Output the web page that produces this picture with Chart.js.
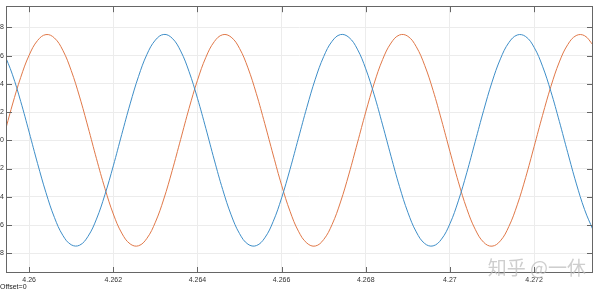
<!DOCTYPE html>
<html>
<head>
<meta charset="utf-8">
<script src="https://cdn.jsdelivr.net/npm/chart.js@4"></script>
<style>
  html, body { margin: 0; padding: 0; background: #fff; }
  #wrap { width: 600px; height: 292px; position: relative; }
</style>
</head>
<body>
<div id="wrap"><canvas id="myChart" width="600" height="292"></canvas></div>
<script>
// sample times (s)
const times = [
  4.2594, 4.2596, 4.2598, 4.2600, 4.2602, 4.2604, 4.2606, 4.2608, 4.2610, 4.2612,
  4.2614, 4.2616, 4.2618, 4.2620, 4.2622, 4.2624, 4.2626, 4.2628, 4.2630, 4.2632,
  4.2634, 4.2636, 4.2638, 4.2640, 4.2642, 4.2644, 4.2646, 4.2648, 4.2650, 4.2652,
  4.2654, 4.2656, 4.2658, 4.2660, 4.2662, 4.2664, 4.2666, 4.2668, 4.2670, 4.2672,
  4.2674, 4.2676, 4.2678, 4.2680, 4.2682, 4.2684, 4.2686, 4.2688, 4.2690, 4.2692,
  4.2694, 4.2696, 4.2698, 4.2700, 4.2702, 4.2704, 4.2706, 4.2708, 4.2710, 4.2712,
  4.2714, 4.2716, 4.2718, 4.2720, 4.2722, 4.2724, 4.2726, 4.2728, 4.2730, 4.2732,
  4.2734
];

// blue trace
const blueValues = [
  6.19, 4.68, 2.75, 0.58, -1.64, -3.71, -5.46, -6.73, -7.40, -7.43,
  -6.80, -5.58, -3.86, -1.81, 0.41, 2.58, 4.53, 6.09, 7.10, 7.50,
  7.23, 6.33, 4.87, 2.98, 0.84, -1.39, -3.49, -5.28, -6.61, -7.36,
  -7.46, -6.91, -5.75, -4.08, -2.05, 0.15, 2.34, 4.33, 5.93, 7.02,
  7.49, 7.29, 6.46, 5.06, 3.22, 1.09, -1.13, -3.26, -5.10, -6.49,
  -7.31, -7.48, -7.00, -5.91, -4.29, -2.30, -0.10, 2.10, 4.12, 5.77,
  6.92, 7.46, 7.35, 6.59, 5.25, 3.45, 1.34, -0.88, -3.03, -4.91,
  -6.35
];

// orange trace
const orangeValues = [
  0.31, 2.50, 4.46, 6.03, 7.07, 7.49, 7.25, 6.38, 4.94, 3.07,
  0.93, -1.30, -3.40, -5.22, -6.57, -7.34, -7.47, -6.94, -5.80, -4.16,
  -2.14, 0.06, 2.26, 4.25, 5.88, 6.99, 7.48, 7.31, 6.51, 5.13,
  3.30, 1.18, -1.04, -3.18, -5.03, -6.44, -7.28, -7.49, -7.03, -5.96,
  -4.37, -2.39, -0.20, 2.01, 4.04, 5.72, 6.89, 7.46, 7.37, 6.63,
  5.31, 3.53, 1.43, -0.79, -2.94, -4.84, -6.30, -7.22, -7.50, -7.12,
  -6.11, -4.57, -2.63, -0.45, 1.76, 3.82, 5.55, 6.78, 7.42, 7.41,
  6.75
];

const xTickStep = 0.002;
const yTickStep = 2;

const toPoints = vals => vals.map((v, i) => ({ x: times[i], y: v }));

// box, inward ticks on all sides, and the extra texts
const boxPlugin = {
  id: 'box',
  afterDraw(chart) {
    const { ctx, chartArea: a, scales } = chart;
    ctx.save();
    ctx.strokeStyle = '#666';
    ctx.lineWidth = 1;
    ctx.strokeRect(Math.round(a.left) + 0.5, Math.round(a.top) + 0.5,
      Math.round(a.right - a.left) - 1, Math.round(a.bottom - a.top) - 1);
    ctx.beginPath();
    scales.x.ticks.forEach(t => {
      const px = Math.round(scales.x.getPixelForValue(t.value)) + 0.5;
      ctx.moveTo(px, a.bottom); ctx.lineTo(px, a.bottom - 6);
      ctx.moveTo(px, a.top); ctx.lineTo(px, a.top + 6);
    });
    scales.y.ticks.forEach(t => {
      const py = Math.round(scales.y.getPixelForValue(t.value)) + 0.5;
      ctx.moveTo(a.left, py); ctx.lineTo(a.left + 6, py);
      ctx.moveTo(a.right, py); ctx.lineTo(a.right - 6, py);
    });
    ctx.stroke();

    ctx.fillStyle = '#222';
    ctx.font = '7px "Liberation Sans", Arial, sans-serif';
    ctx.textBaseline = 'middle';
    ctx.textAlign = 'left';
    ctx.fillText('Offset=0', 0, 287);

    ctx.font = '19px "Noto Sans CJK SC", sans-serif';
    ctx.fillStyle = 'rgba(185,185,185,0.7)';
    ctx.textAlign = 'right';
    ctx.textBaseline = 'alphabetic';
    ctx.fillText('知乎 @一休', 586, 275);
    ctx.restore();
  }
};

const ctx = document.getElementById('myChart');

new Chart(ctx, {
  type: 'line',
  data: {
    datasets: [
      {
        data: toPoints(blueValues),
        borderColor: 'rgb(62,142,200)',
        borderWidth: 1,
        pointRadius: 0,
        tension: 0.4,
        fill: false
      },
      {
        data: toPoints(orangeValues),
        borderColor: 'rgb(224,120,72)',
        borderWidth: 1,
        pointRadius: 0,
        tension: 0.4,
        fill: false
      }
    ]
  },
  options: {
    responsive: false,
    animation: false,
    events: [],
    layout: { padding: { top: 3, right: 7, left: 0, bottom: 0 } },
    plugins: {
      legend: { display: false },
      tooltip: { enabled: false }
    },
    scales: {
      x: {
        type: 'linear',
        min: 4.25945,
        max: 4.2734,
        afterFit(scale) { scale.height = 19; },
        border: { display: false },
        grid: { color: '#ececec', drawTicks: false },
        ticks: {
          stepSize: xTickStep,
          includeBounds: false,
          maxRotation: 0,
          autoSkip: false,
          padding: 3,
          color: '#333',
          font: { size: 7, family: '"Liberation Sans", Arial, sans-serif' },
          callback: v => String(parseFloat(v.toFixed(3)))
        }
      },
      y: {
        min: -9.4,
        max: 9.5,
        afterFit(scale) { scale.width = 6; },
        border: { display: false },
        grid: { color: '#ececec', drawTicks: false },
        ticks: {
          stepSize: yTickStep,
          includeBounds: false,
          padding: 2,
          color: '#333',
          font: { size: 7, family: '"Liberation Sans", Arial, sans-serif' }
        }
      }
    }
  },
  plugins: [boxPlugin]
});
</script>
</body>
</html>
